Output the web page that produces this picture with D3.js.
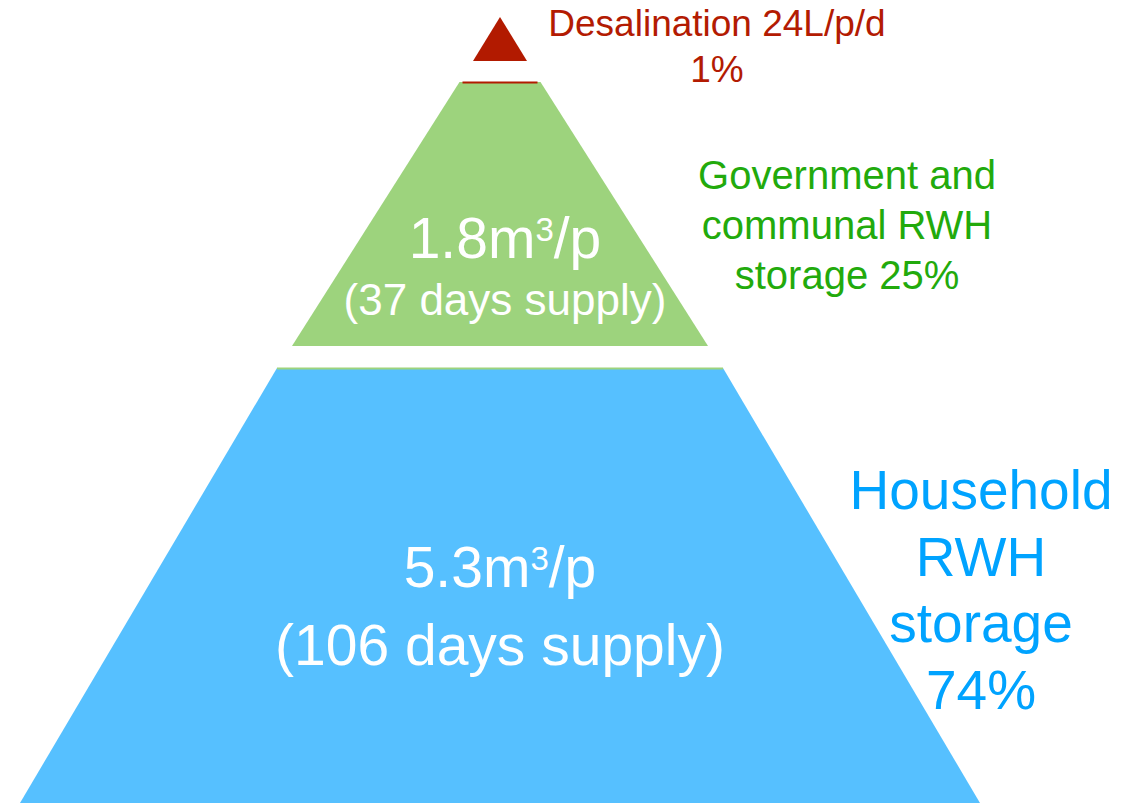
<!DOCTYPE html>
<html>
<head>
<meta charset="utf-8">
<script src="https://cdn.jsdelivr.net/npm/d3@7"></script>
<style>
  html, body { margin: 0; padding: 0; background: #fff; }
  svg { display: block; font-family: "Liberation Sans", Arial, sans-serif; }
</style>
</head>
<body>
<div id="pyramid"></div>
<script>
// tiers of the pyramid, top to bottom
var tiers = ["Desalination", "Communal", "Household"];
var shares = [1, 25, 74];            // % of supply
var volumes = [null, "1.8", "5.3"];  // m3 per person
var days = [null, 37, 106];          // days supply
var sideLines = [
  ["Desalination 24L/p/d", "{share}%"],
  ["Government and", "communal RWH", "storage {share}%"],
  ["Household", "RWH", "storage", "{share}%"]
];

var width = 1132, height = 803, cx = 500;

var svg = d3.select("#pyramid")
  .append("svg")
    .attr("width", width)
    .attr("height", height);

// vertical band of each tier (pyramid is a diagram, not a quantity axis)
var band = d3.scaleOrdinal()
  .domain(tiers)
  .range([[17, 61], [82, 346], [368, 803]]);

// half width of the pyramid at a given y
var halfW = d3.scaleLinear()
  .domain([17, 61, 82, 346, 368, 803])
  .range([0, 27, 40.5, 208, 223, 480]);

var fill = d3.scaleOrdinal().domain(tiers).range(["#b21a00", "#9dd37d", "#56c0ff"]);
var ink = d3.scaleOrdinal().domain(tiers).range(["#b31b02", "#22aa0c", "#00a3ff"]);

// text layout per tier
var sideX = d3.scaleOrdinal().domain(tiers).range([717, 847, 981]);
var sideY = d3.scaleOrdinal().domain(tiers).range([36, 189, 509]);
var sideStep = d3.scaleOrdinal().domain(tiers).range([46, 50, 66.5]);
var sideSize = d3.scaleOrdinal().domain(tiers).range([37, 40, 55]);
var innerX = d3.scaleOrdinal().domain(tiers).range([500, 505, 500]);
var mainY = d3.scaleOrdinal().domain(tiers).range([0, 258, 587]);
var subY = d3.scaleOrdinal().domain(tiers).range([0, 315, 665]);
var subSize = d3.scaleOrdinal().domain(tiers).range([44, 44, 57]);

var data = tiers.map(function(t, i) {
  return { tier: t, share: shares[i], volume: volumes[i], days: days[i], lines: sideLines[i] };
});

function shape(d) {
  var b = band(d.tier), t = b[0], btm = b[1];
  return [
    [cx - halfW(t), t], [cx + halfW(t), t],
    [cx + halfW(btm), btm], [cx - halfW(btm), btm]
  ];
}

svg.selectAll("path.tier")
  .data(data)
  .enter()
  .append("path")
    .attr("class", "tier")
    .attr("d", function(d) { return d3.line()(shape(d)) + "Z"; })
    .attr("fill", function(d) { return fill(d.tier); });

// thin rim of the tier above, left on top of each lower tier
svg.selectAll("rect.rim")
  .data(data.slice(1))
  .enter()
  .append("rect")
    .attr("class", "rim")
    .attr("x", function(d) { var t = band(d.tier)[0]; return cx - halfW(t) + (d.tier === "Communal" ? 3 : 0); })
    .attr("y", function(d) { return band(d.tier)[0] - 0.5; })
    .attr("width", function(d) { var t = band(d.tier)[0]; return 2 * halfW(t) - (d.tier === "Communal" ? 6 : 0); })
    .attr("height", 2)
    .attr("fill", function(d, i) { return fill(tiers[i]); });

// labels beside the pyramid
var side = svg.selectAll("text.side")
  .data(data)
  .enter()
  .append("text")
    .attr("class", "side")
    .attr("text-anchor", "middle")
    .attr("fill", function(d) { return ink(d.tier); })
    .style("font-size", function(d) { return sideSize(d.tier) + "px"; });

side.selectAll("tspan")
  .data(function(d) {
    return d.lines.map(function(l, j) {
      return { tier: d.tier, j: j, text: l.replace("{share}", d.share) };
    });
  })
  .enter()
  .append("tspan")
    .attr("x", function(l) { return sideX(l.tier); })
    .attr("y", function(l) { return sideY(l.tier) + l.j * sideStep(l.tier); })
    .text(function(l) { return l.text; });

// volume and days inside the tiers
var inner = data.filter(function(d) { return d.volume !== null; });

var main = svg.selectAll("text.main")
  .data(inner)
  .enter()
  .append("text")
    .attr("class", "main")
    .attr("text-anchor", "middle")
    .attr("x", function(d) { return innerX(d.tier); })
    .attr("y", function(d) { return mainY(d.tier); })
    .attr("fill", "#fff")
    .style("font-size", "57px");

main.append("tspan").text(function(d) { return d.volume + "m"; });
main.append("tspan").attr("dy", -17).style("font-size", "33px").text("3");
main.append("tspan").attr("dy", 17).text("/p");

svg.selectAll("text.sub")
  .data(inner)
  .enter()
  .append("text")
    .attr("class", "sub")
    .attr("text-anchor", "middle")
    .attr("x", function(d) { return innerX(d.tier); })
    .attr("y", function(d) { return subY(d.tier); })
    .attr("fill", "#fff")
    .style("font-size", function(d) { return subSize(d.tier) + "px"; })
    .text(function(d) { return "(" + d.days + " days supply)"; });
</script>
</body>
</html>
